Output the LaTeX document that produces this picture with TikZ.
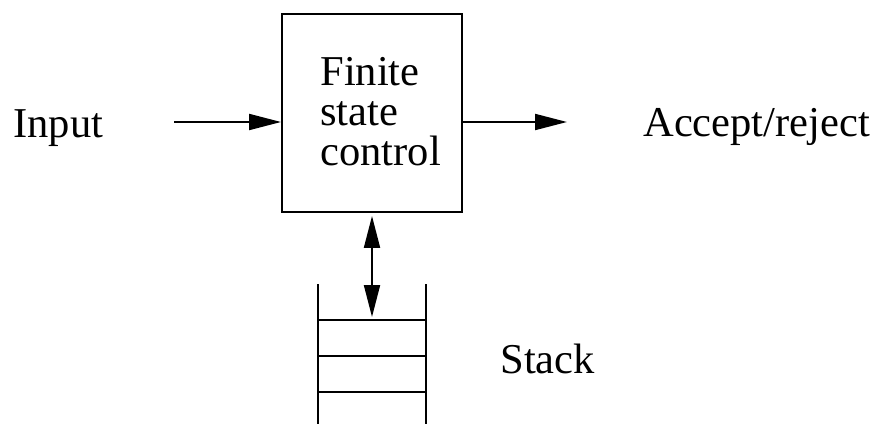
\documentclass[tikz,border=0pt]{standalone}
\usepackage{fontspec}
\setmainfont{Liberation Serif}
\usetikzlibrary{arrows.meta, positioning, calc}
\tikzset{
  ctl/.style = {draw=black, line width=1.1pt, minimum width=3.6cm,
    minimum height=3.96cm, inner sep=0pt},
  lbl/.style = {font=\fontsize{24.2}{22.8}\selectfont, inner sep=0pt},
  fl/.style = {-{Triangle[length=6.4mm, width=3.2mm]}, line width=1.1pt},
  fl2/.style = {{Triangle[length=6.4mm, width=3.2mm]}-{Triangle[length=6.4mm, width=3.2mm]},
    line width=1.1pt, shorten <=0.06cm, shorten >=0.06cm},
  pil/.style = {draw=black, line width=1.1pt}
}

\begin{document}
\begin{tikzpicture}
  \useasboundingbox (0,0) rectangle (17.52,8.48);
  \node [ctl] (fsc) at (7.44,6.22) {};
  \node [lbl, align=left, anchor=north west] (fsct) at (6.4,7.34) {Finite\\state\\control};
  \node [lbl, anchor=base west] (inp) at (0.26,5.72) {Input};
  \node [lbl, anchor=base west] (acc) at (12.86,5.74) {Accept/reject};
  \node [lbl, anchor=base west] (stk) at (10.0,1.02) {Stack};
  \coordinate (ini) at (3.48,6.04);
  \coordinate (fim) at (11.34,6.04);
  \coordinate (topo) at (7.44,2.08);
  \draw [fl] (ini) -- (ini -| fsc.west);
  \draw [fl] (fim -| fsc.east) -- (fim);
  \draw [fl2] (fsc.south) -- (topo);
  % pilha
  \draw [pil] (6.36,2.8) -- (6.36,0);
  \draw [pil] (8.52,2.8) -- (8.52,0);
  \foreach \y in {2.08,1.36,0.64}
    \draw [pil] (6.36,\y) -- (8.52,\y);
\end{tikzpicture}
\end{document}
